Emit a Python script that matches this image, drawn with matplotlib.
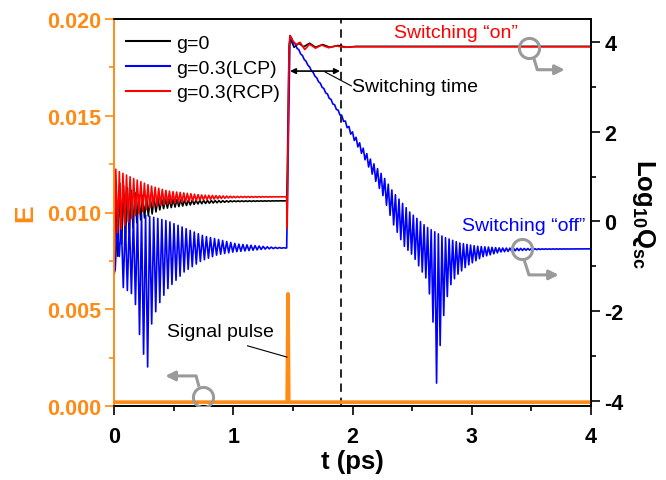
import numpy as np
import matplotlib
matplotlib.use("Agg")
import matplotlib.pyplot as plt
from matplotlib.lines import Line2D

plt.rcParams['font.family'] = ['Liberation Sans', 'DejaVu Sans']
plt.rcParams['mathtext.fontset'] = 'custom'
plt.rcParams['mathtext.rm'] = 'Liberation Sans'
plt.rcParams['mathtext.bf'] = 'Liberation Sans:bold'
plt.rcParams['axes.unicode_minus'] = False

ORANGE = '#FF8A14'
RED = '#FF0000'
BLUE = '#0000FF'
GRAY = '#9A9A9A'

# ---- signal pulse (left axis, E) ----
pulse_t = [0.0, 1.452, 1.459, 1.466, 4.0]
pulse_E = [0.0002, 0.0002, 0.0058, 0.0002, 0.0002]

# ---- before the pulse: envelopes of the ringing (log10 Qsc) ----
red_env_t = [0.0, 0.03, 0.17, 0.31, 0.45, 0.73, 1.0, 1.45]
red_env_hi = [1.20, 1.13, 0.95, 0.79, 0.68, 0.59, 0.56, 0.55]
red_env_lo = [-1.17, -0.25, 0.12, 0.32, 0.39, 0.48, 0.53, 0.55]

black_env_t = [0.0, 0.05, 0.2, 0.4, 0.7, 1.0, 1.45]
black_env_hi = [0.90, 0.85, 0.60, 0.50, 0.47, 0.46, 0.46]
black_env_lo = [-1.17, -0.55, 0.0, 0.28, 0.39, 0.44, 0.46]

blue_env_t = [0.0, 0.045, 0.073, 0.148, 0.184, 0.226, 0.282, 0.31, 0.35,
              0.39, 0.45, 0.59, 0.73, 0.87, 1.0, 1.29, 1.45]
blue_env_lo = [-1.17, -0.77, -1.46, -1.61, -1.88, -2.77, -3.24, -2.33, -2.01,
               -1.77, -1.50, -1.12, -0.88, -0.74, -0.68, -0.61, -0.59]
blue_hi_t = [0.0, 0.06, 0.22, 0.45, 0.75, 1.03, 1.31, 1.45]
blue_hi_q = [-0.20, 0.0, 0.17, 0.01, -0.32, -0.50, -0.57, -0.59]

# ---- after the pulse ----
red_post_t = [1.452, 1.468, 1.476, 1.50, 1.53, 1.56, 1.60, 1.64, 1.69, 1.74,
              1.80, 1.86, 1.93, 2.0, 4.0]
red_post_q = [-0.15, 3.90, 4.14, 4.02, 3.94, 3.99, 3.83, 3.95, 3.86, 3.93,
              3.87, 3.91, 3.88, 3.89, 3.89]

black_post_t = [1.45, 1.468, 1.478, 1.51, 1.55, 1.59, 1.64, 1.69, 1.75, 1.81,
                1.88, 1.95, 2.03, 4.0]
black_post_q = [0.46, 3.90, 4.08, 3.88, 3.97, 3.89, 3.97, 3.88, 3.94, 3.88,
                3.92, 3.88, 3.90, 3.90]

blue_post_hi_t = [1.476, 1.65, 1.9, 2.15, 2.26, 2.34, 2.48, 2.62, 2.76, 2.9,
                  3.04, 3.24, 3.6, 4.0]
blue_post_hi_q = [4.14, 3.40, 2.40, 1.39, 1.00, 0.66, 0.21, -0.12, -0.34,
                  -0.48, -0.55, -0.59, -0.61, -0.61]
blue_post_lo_t = [1.476, 1.9, 2.1, 2.26, 2.34, 2.43, 2.51, 2.57, 2.62, 2.65,
                  2.675, 2.705, 2.73, 2.76, 2.79, 2.82, 2.87, 2.96, 3.09,
                  3.24, 3.38, 3.6, 4.0]
blue_post_lo_q = [4.10, 2.35, 1.40, 0.55, -0.05, -0.54, -0.77, -1.06, -1.28,
                  -1.68, -2.24, -3.60, -2.88, -2.17, -1.72, -1.43, -1.21,
                  -0.99, -0.79, -0.68, -0.65, -0.62, -0.61]


def ringing(t0, t1, period, anchor, lo_t, lo_q, hi_t, hi_q):
    """Alternate between the lower and upper envelope every half period."""
    k0 = int(np.ceil(2 * (t0 - anchor) / period))
    k1 = int(np.floor(2 * (t1 - anchor) / period))
    k = np.arange(k0, k1 + 1)
    t = anchor + k * period / 2
    q = np.where(k % 2 == 0, np.interp(t, lo_t, lo_q), np.interp(t, hi_t, hi_q))
    return t, q


rt, rq = ringing(0.0, 1.445, 0.030, 0.0, red_env_t, red_env_lo, red_env_t, red_env_hi)
red_t = np.concatenate([rt, [1.448], red_post_t])
red_q = np.concatenate([rq, [0.55], red_post_q])

kt, kq = ringing(0.0, 1.445, 0.032, 0.0, black_env_t, black_env_lo, black_env_t, black_env_hi)
black_t = np.concatenate([kt, black_post_t])
black_q = np.concatenate([kq, black_post_q])

bt, bq = ringing(0.0, 1.445, 0.034, 0.282, blue_env_t, blue_env_lo, blue_hi_t, blue_hi_q)
pt, pq = ringing(1.49, 4.0, 0.030, 2.705, blue_post_lo_t, blue_post_lo_q,
                 blue_post_hi_t, blue_post_hi_q)
blue_t = np.concatenate([[0.0], bt, [1.448, 1.476], pt])
blue_q = np.concatenate([[-1.17], bq, [-0.59, 4.14], pq])

fig = plt.figure(figsize=(6.66, 4.81), dpi=100)
ax = fig.add_axes([114 / 666, 1 - 407 / 481, 477 / 666, 387 / 481])
ax2 = ax.twinx()

ax.plot(pulse_t, pulse_E, color=ORANGE, lw=2.6, zorder=3)
ax.axvline(1.9, color='k', lw=1.2, ls=(0, (5, 3.5)))

ax2.plot(black_t, black_q, color='k', lw=1.2)
ax2.plot(blue_t, blue_q, color=BLUE, lw=1.2)
ax2.plot(red_t, red_q, color=RED, lw=1.2)

ax.set_xlim(0, 4)
ax.set_ylim(0, 0.020)
ax2.set_ylim(-4.11, 4.51)

ax.set_xticks([0, 1, 2, 3, 4])
ax.set_xticks(np.arange(0, 4.01, 0.5), minor=True)
ax.set_yticks([0.0, 0.005, 0.010, 0.015, 0.020])
ax.set_yticklabels(['0.000', '0.005', '0.010', '0.015', '0.020'])
ax.set_yticks(np.arange(0, 0.0201, 0.0025), minor=True)
ax2.set_yticks([-4, -2, 0, 2, 4])
ax2.set_yticks(np.arange(-4, 4.01, 1), minor=True)

for a in (ax, ax2):
    a.tick_params(which='major', direction='out', length=6.5, width=1.2,
                  labelsize=15.5, pad=3)
    a.tick_params(which='minor', direction='out', length=3.6, width=1.2)
    for s in a.spines.values():
        s.set_linewidth(1.2)
    a.spines['left'].set_color(ORANGE)
ax.tick_params(axis='y', which='both', colors=ORANGE)
ax.tick_params(axis='x', which='both', top=False)
ax.tick_params(axis='x', which='major', pad=8)
for lab in ax.get_xticklabels() + ax.get_yticklabels() + ax2.get_yticklabels():
    lab.set_fontweight('bold')

ax.set_xlabel('t (ps)', fontsize=18.5, fontweight='bold', labelpad=1)
ax.set_ylabel('E', fontsize=19, fontweight='bold', color=ORANGE, labelpad=7)
ax2.set_ylabel(r'$\mathbf{Log_{10}Q_{sc}}$', fontsize=18.5, rotation=270,
               labelpad=24)

handles = [Line2D([], [], color='k', lw=1.5),
           Line2D([], [], color=BLUE, lw=1.5),
           Line2D([], [], color=RED, lw=1.5)]
ax2.legend(handles, ['g=0', 'g=0.3(LCP)', 'g=0.3(RCP)'], loc='upper left',
           bbox_to_anchor=(0.0, 0.99), frameon=False, fontsize=14,
           handlelength=2.3, handletextpad=0.3, labelspacing=0.36,
           borderaxespad=0.2)

# annotations
ax2.text(3.39, 4.22, 'Switching \u201con\u201d', color=RED, fontsize=14,
         ha='right', va='center')
ax2.text(2.92, -0.10, 'Switching \u201coff\u201d', color=BLUE, fontsize=14,
         ha='left', va='center')
ax2.text(2.0, 3.0, 'Switching time', color='k', fontsize=14, ha='left',
         va='center')
ax2.annotate('', xy=(1.476, 3.35), xytext=(1.895, 3.35),
             arrowprops=dict(arrowstyle='<|-|>', color='k', lw=1.2,
                             mutation_scale=8, shrinkA=0, shrinkB=0))
ax2.plot([1.77, 1.99], [3.33, 3.02], color='k', lw=0.8)
ax2.text(0.445, -2.46, 'Signal pulse', color='k', fontsize=14, ha='left',
         va='center')
ax2.plot([1.12, 1.45], [-2.77, -3.02], color='k', lw=0.8)

# gray circles with bent arrows pointing to the relevant axis
circles = [(3.48, 3.87), (3.42, -0.61), (0.746, -3.91)]
bends = [[(3.52, 3.64), (3.55, 3.38), (3.78, 3.38)],
         [(3.44, -0.86), (3.48, -1.19), (3.73, -1.19)],
         [(0.713, -3.68), (0.688, -3.44), (0.43, -3.44)]]
for (cx, cy), pts in zip(circles, bends):
    ax2.plot(cx, cy, 'o', ms=14.5, mfc='none', mec=GRAY, mew=2.2, zorder=5)
    xs = [p[0] for p in pts[:2]]
    ys = [p[1] for p in pts[:2]]
    ax2.plot(xs, ys, color=GRAY, lw=2.2, solid_capstyle='butt', zorder=5)
    ax2.annotate('', xy=pts[2], xytext=pts[1],
                 arrowprops=dict(arrowstyle='-|>', color=GRAY, lw=2.2,
                                 mutation_scale=14, shrinkA=0, shrinkB=0),
                 zorder=5)

fig.savefig('out.png', dpi=100)
